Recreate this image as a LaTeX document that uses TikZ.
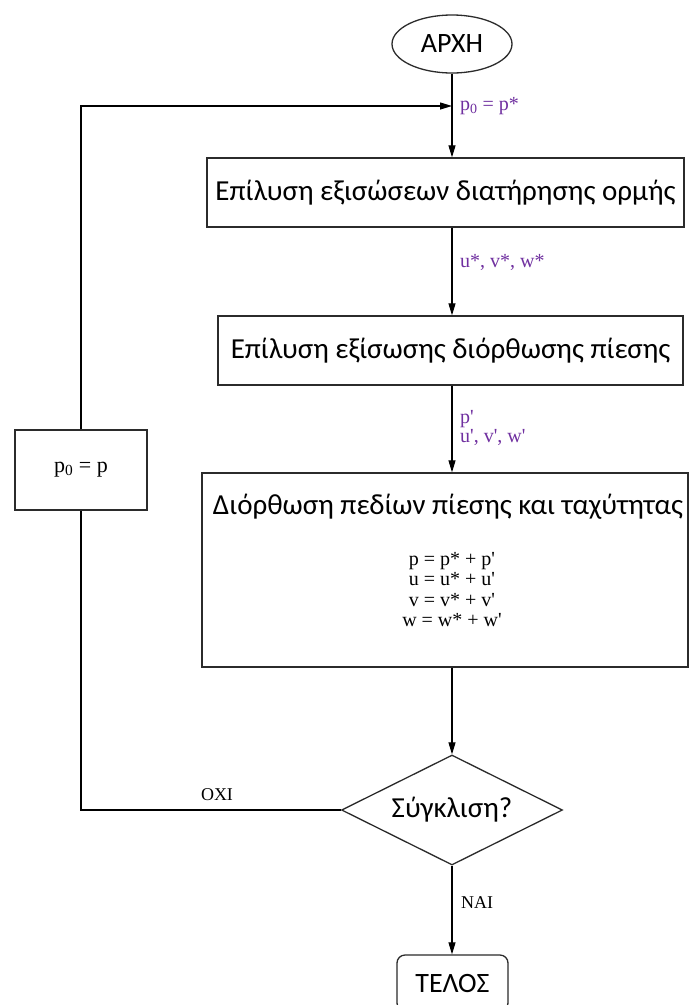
\documentclass[tikz,border=0pt]{standalone}
\usepackage{fontspec}
\setmainfont{Carlito}
\newfontfamily\mathserif{Liberation Serif}
\usetikzlibrary{shapes.geometric,arrows.meta}
\definecolor{labelpurple}{HTML}{7030A0}
\definecolor{edgegray}{HTML}{2B2B2B}
\newcommand{\pr}{\textquotesingle}
\newcommand{\sub}[1]{\textsubscript{#1}}
\begin{document}
\begin{tikzpicture}[x=1pt,y=-1pt,
  stepbox/.style={draw=edgegray, line width=1.3pt, rectangle, inner sep=0pt,
    font=\fontsize{29}{32}\selectfont},
  flow/.style={draw=black, line width=1.1pt, -{Triangle[length=12pt,width=7pt]}},
  plain/.style={draw=black, line width=1.1pt},
  lbl/.style={font=\mathserif\fontsize{20}{20}\selectfont, text=labelpurple,
    anchor=west, inner sep=0pt},
  eq/.style={font=\mathserif\fontsize{20}{20}\selectfont, inner sep=0pt, anchor=base},
  branch/.style={font=\mathserif\fontsize{18}{18}\selectfont, inner sep=0pt}]
\useasboundingbox (0,0) rectangle (689,1005);
\fill[white] (0,0) rectangle (689,1005);
\clip (0,0) rectangle (689,1005);

% start terminal
\node[stepbox, ellipse, minimum width=120pt, minimum height=58pt,
  font=\fontsize{28}{32}\selectfont] (start) at (452,44) {ΑΡΧΗ};
\coordinate (join) at (452,106);

% process boxes
\node[stepbox, minimum width=477pt, minimum height=69pt] (mom) at (445.5,192.5)
  {Επίλυση εξισώσεων διατήρησης ορμής};
\node[stepbox, minimum width=465pt, minimum height=69pt] (pcorr) at (450.5,350.5)
  {Επίλυση εξίσωσης διόρθωσης πίεσης};
\node[stepbox, minimum width=486pt, minimum height=194pt] (upd) at (445,570) {};
\node[font=\fontsize{29}{32}\selectfont, inner sep=0pt] (updtitle) at (448,507)
  {Διόρθωση πεδίων πίεσης και ταχύτητας};
\node[eq] (eqp) at (452,565) {p = p* + p\pr};
\node[eq] (equ) at (452,585.5) {u = u* + u\pr};
\node[eq] (eqv) at (452,606) {v = v* + v\pr};
\node[eq] (eqw) at (452,626.5) {w = w* + w\pr};

% convergence test and end terminal
\node[stepbox, diamond, minimum width=221pt, minimum height=110pt, aspect=2] (conv) at (452,810)
  {Σύγκλιση?};
\node[stepbox, rounded corners=8pt, minimum width=111pt, minimum height=56pt,
  font=\fontsize{28}{32}\selectfont] (stop) at (452.5,983) {ΤΕΛΟΣ};

% pressure update on the return path
\node[stepbox, minimum width=132pt, minimum height=80pt,
  font=\mathserif\fontsize{22}{22}\selectfont] (reset) at (81,470) {p\sub{0} = p};

% main flow
\draw[plain] (start) -- (join);
\draw[flow] (join) -- (join |- mom.north);
\draw[flow] (start |- mom.south) -- (start |- pcorr.north);
\draw[flow] (start |- pcorr.south) -- (start |- upd.north);
\draw[flow] (start |- upd.south) -- (conv.north);
\draw[flow] (conv.south) -- (conv.south |- stop.north);

% loop back when not converged
\draw[plain] (conv.west) -| (reset.south);
\draw[flow] (reset.north) |- (join);

% labels
\node[lbl] (l0) at (460,106) {p\sub{0} = p*};
\node[lbl] (l1) at (460,262) {u*, v*, w*};
\node[lbl] (l2) at (460,419) {p\pr};
\node[lbl] (l3) at (460,437) {u\pr, v\pr, w\pr};
\node[branch] (no) at (217,795) {ΟΧΙ};
\node[branch] (yes) at (477,903) {ΝΑΙ};
\end{tikzpicture}
\end{document}
